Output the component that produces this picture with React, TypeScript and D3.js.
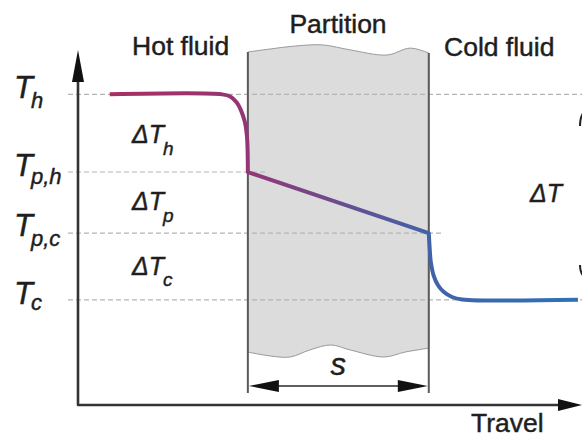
import * as React from 'react'
import * as d3 from 'd3'

// temperature levels (0–100 scale along the vertical axis)
const levelNames = ['h', 'p,h', 'p,c', 'c'];
const levelValues = [88, 66, 48.7, 29.8];

// delta labels between levels
const deltaNames = ['h', 'p', 'c'];

// partition position along travel (0–100)
const wallLeft = 33.7;
const wallRight = 69.6;

// hot fluid profile
const hotX = [6.3, 28.6, 30.2, 31.5, 32.3, 33.1, 33.5, 33.65, 33.7];
const hotT = [88, 88, 87.4, 85.7, 83.6, 80.2, 76.5, 72.2, 66];

// cold fluid profile
const coldX = [69.6, 69.8, 70.0, 70.6, 71.4, 72.6, 74.2, 76.2, 99.2];
const coldT = [48.7, 43.9, 40.5, 36.5, 34.0, 32.0, 30.6, 29.9, 29.8];

// wavy cut edges of the partition
const topWaveX = [33.7, 38.1, 43.1, 48.6, 54.0, 61.3, 65.9, 69.6];
const topWaveT = [100, 100.85, 101.7, 102, 100.6, 99.15, 101.1, 99.7];
const bottomWaveX = [33.7, 38.1, 42.1, 46.0, 50.2, 54.0, 60.7, 64.9, 69.6];
const bottomWaveT = [15.0, 13.9, 13.6, 15.6, 17.0, 15.6, 13.6, 15.0, 16.1];

const W = 582;
const H = 439;
const FONT = "'Liberation Sans', Arial, Helvetica, sans-serif";
const INK = '#1e1e1e';

const x = d3.scaleLinear().domain([0, 100]).range([78, 582]);
const y = d3.scaleLinear().domain([0, 100]).range([405, 52]);

const App: React.FC = () => {
  const smooth = d3.line<[number, number]>()
    .x(d => x(d[0]))
    .y(d => y(d[1]))
    .curve(d3.curveCatmullRom.alpha(0.5));

  const hotPts = hotX.map((v, i) => [v, hotT[i]] as [number, number]);
  const coldPts = coldX.map((v, i) => [v, coldT[i]] as [number, number]);
  const profile =
    smooth(hotPts) +
    `L${x(wallRight)},${y(levelValues[2])}` +
    smooth(coldPts)!.replace(/^M/, 'L');

  const topPts = topWaveX.map((v, i) => [v, topWaveT[i]] as [number, number]);
  const botPts = bottomWaveX.map((v, i) => [v, bottomWaveT[i]] as [number, number]).reverse();
  const partition =
    smooth(topPts) + smooth(botPts)!.replace(/^M/, 'L') + 'Z';

  const axisBottom = y(0);
  const axisLeft = x(0);
  const edgeBottom = y(3.4);
  const dimY = y(5.4);

  // dashed guide line extents (right end) for each level
  const dashEnds = [W, x(wallLeft) + 17, x(wallRight) + 15, W];

  const labelSizes = { main: 31, sub: 22 };
  const levelBaselines = [98, 176, 236, 304];
  const levelSubDy = [10, 8, 10, 6];

  const textStyle = { stroke: INK, strokeWidth: 0.45, fill: INK };

  return (
    <svg width={W} height={H} style={{ position: 'absolute', left: 0, top: 0 }}
      fontFamily={FONT}>
      <defs>
        <linearGradient id="prof" gradientUnits="userSpaceOnUse"
          x1={x(hotX[0])} x2={x(coldX[coldX.length - 1])} y1={0} y2={0}>
          <stop offset="0" stopColor="#a82e60" />
          <stop offset="0.29" stopColor="#943676" />
          <stop offset="0.68" stopColor="#4262a8" />
          <stop offset="1" stopColor="#2f72b5" />
        </linearGradient>
      </defs>
      <rect width={W} height={H} fill="#fff" />

      {/* partition */}
      <path d={partition} fill="#dcdcdc" stroke="#9a9a9a" strokeWidth={1} />

      {/* dashed guides */}
      {levelValues.map((v, i) => (
        <line key={i} x1={68} x2={dashEnds[i]} y1={y(v)} y2={y(v)}
          stroke="#b4b4b4" strokeWidth={1.2} strokeDasharray="5,3" />
      ))}

      {/* partition edges */}
      <line x1={x(wallLeft)} x2={x(wallLeft)} y1={y(topWaveT[0])} y2={edgeBottom}
        stroke="#5a5a5a" strokeWidth={2} />
      <line x1={x(wallRight)} x2={x(wallRight)} y1={y(topWaveT[topWaveT.length - 1])} y2={edgeBottom}
        stroke="#5a5a5a" strokeWidth={2} />

      {/* thickness dimension */}
      <line x1={x(wallLeft) + 20} x2={x(wallRight) - 20} y1={dimY} y2={dimY}
        stroke="#2a2a2a" strokeWidth={1.5} />
      <path d={`M${x(wallLeft) + 1},${dimY} l30,-6 l0,12 Z`} fill="#111" />
      <path d={`M${x(wallRight) - 1},${dimY} l-30,-6 l0,12 Z`} fill="#111" />
      <text x={(x(wallLeft) + x(wallRight)) / 2} y={375} textAnchor="middle"
        fontSize={31} fontStyle="italic" {...textStyle}>s</text>

      {/* axes */}
      <path d={`M${axisLeft},${y(100) + 20} L${axisLeft},${axisBottom} L${W - 20},${axisBottom}`}
        fill="none" stroke="#333" strokeWidth={2.6} strokeLinejoin="round" />
      <path d={`M${axisLeft},${y(100) - 2} l-6,32 l12,0 Z`} fill="#111" />
      <path d={`M${W},${axisBottom} l-24,-6 l0,12 Z`} fill="#111" />

      {/* temperature profile */}
      <path d={profile} fill="none" stroke="url(#prof)" strokeWidth={4}
        strokeLinejoin="round" strokeLinecap="butt" />

      {/* headings */}
      <text x={132} y={55} fontSize={26.5} {...textStyle}>Hot fluid</text>
      <text x={338} y={33} fontSize={26.5} textAnchor="middle" {...textStyle}>Partition</text>
      <text x={444} y={56} fontSize={26.5} {...textStyle}>Cold fluid</text>
      <text x={471} y={432} fontSize={26.5} {...textStyle}>Travel</text>

      {/* level labels */}
      {levelNames.map((n, i) => (
        <text key={n} x={14} y={levelBaselines[i]} fontStyle="italic" {...textStyle}
          fontSize={labelSizes.main}>
          T<tspan dx={-2} dy={levelSubDy[i]} fontSize={labelSizes.sub}>{n}</tspan>
        </text>
      ))}

      {/* delta labels */}
      {deltaNames.map((n, i) => (
        <text key={n} x={132} y={[143, 210, 275][i]} fontStyle="italic" {...textStyle} fontSize={25}>
          ΔT<tspan dx={-1} dy={[12, 12, 11][i]} fontSize={19}>{n}</tspan>
        </text>
      ))}
      <text x={530} y={202} fontStyle="italic" {...textStyle} fontSize={25}>ΔT</text>

      {/* clipped brace at the right edge */}
      <path d="M588,110 Q580,112 580,126" fill="none" stroke="#222" strokeWidth={2} />
      <path d="M580,265 Q580,276 588,279" fill="none" stroke="#222" strokeWidth={2} />
    </svg>
  );
};

export default App;
